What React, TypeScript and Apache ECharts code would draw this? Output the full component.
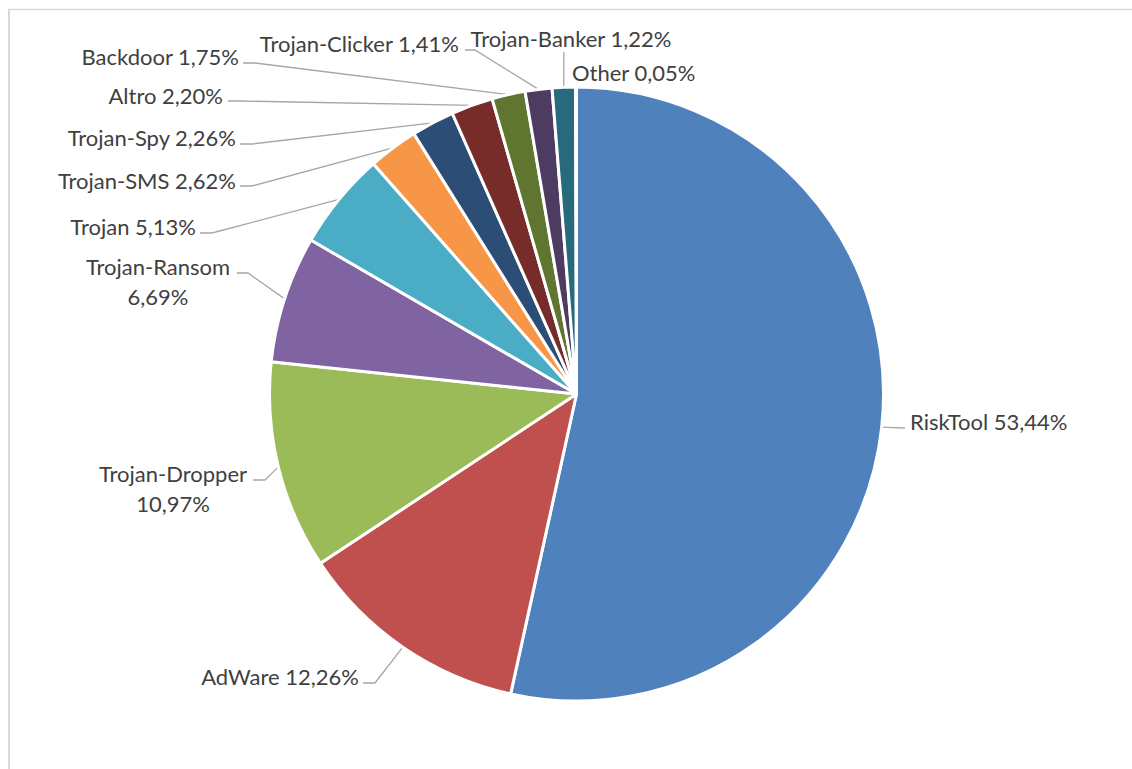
import React, { useEffect, useRef } from "react";
import * as echarts from "echarts";

const categories = [
  "RiskTool",
  "AdWare",
  "Trojan-Dropper",
  "Trojan-Ransom",
  "Trojan",
  "Trojan-SMS",
  "Trojan-Spy",
  "Altro",
  "Backdoor",
  "Trojan-Clicker",
  "Trojan-Banker",
  "Other",
];
const shares = [53.44, 12.26, 10.97, 6.69, 5.13, 2.62, 2.26, 2.2, 1.75, 1.41, 1.22, 0.05];
const colors = [
  "#4F81BD",
  "#C0504D",
  "#9BBB59",
  "#8064A2",
  "#4BACC6",
  "#F79646",
  "#2C4D75",
  "#772C2A",
  "#5F7530",
  "#4D3B62",
  "#276A7C",
  "#B65708",
];
// labels broken onto two lines
const twoLine = [false, false, true, true, false, false, false, false, false, false, false, false];

// label layout: [x, y, align, lineEndX, lineEndY, elbowX, elbowY] (layout only)
type LL = [number, number, string, number | null, number | null, number | null, number | null];
const labelLayouts: LL[] = [
  [910, 421, "left", 905, 428, null, null],
  [359, 676, "right", 363, 683, 375, 683],
  [173, 488, "center", 253, 480, 265, 480],
  [158, 281, "center", 237, 273, 248, 273],
  [196, 226, "right", 200, 233, 212, 233],
  [236, 180, "right", 240, 186, 252, 186],
  [236, 137, "right", 240, 144, 252, 144],
  [223, 95, "right", 228, 101, 240, 101],
  [239, 56, "right", 243, 63, 255, 63],
  [459, 43, "right", 465, 50, 475, 50],
  [571, 38, "center", -1, 52, null, null],
  [572, 72, "left", null, null, null, null],
];

const fmt = (v: number) => v.toFixed(2).replace(".", ",") + "%";

export default function App() {
  const ref = useRef<HTMLDivElement>(null);
  useEffect(() => {
    if (!ref.current) return;
    const chart = echarts.init(ref.current, null, { renderer: "svg" });
    const data = categories.map((name, i) => ({
      name,
      value: shares[i],
      itemStyle: { color: colors[i] },
      labelLine: { show: labelLayouts[i][3] !== null },
      label: { align: labelLayouts[i][2] as any },
    }));
    chart.setOption({
      animation: false,
      backgroundColor: "#ffffff",
      graphic: [
        {
          type: "line",
          shape: { x1: 8, y1: 9.5, x2: 1132, y2: 9.5 },
          style: { stroke: "#d9d9d9", lineWidth: 1.5 },
        },
        {
          type: "line",
          shape: { x1: 9, y1: 9, x2: 9, y2: 769 },
          style: { stroke: "#d9d9d9", lineWidth: 2 },
        },
      ],
      series: [
        {
          type: "pie",
          center: [576.5, 394],
          radius: 307,
          startAngle: 90,
          clockwise: true,
          avoidLabelOverlap: false,
          minShowLabelAngle: 0,
          itemStyle: { borderColor: "#ffffff", borderWidth: 3 },
          label: {
            show: true,
            position: "outside",
            fontFamily: "Lato",
            fontSize: 22,
            lineHeight: 30,
            color: "#404040",
            formatter: (p: any) =>
              p.name + (twoLine[p.dataIndex] ? "\n" : " ") + fmt(p.value),
          },
          labelLine: {
            show: true,
            lineStyle: { color: "#a6a6a6", width: 1.3 },
          },
          labelLayout: (params: any) => {
            const l = labelLayouts[params.dataIndex];
            const pts = params.labelLinePoints;
            const edge = pts ? pts[0] : [0, 0];
            const res: any = {
              x: l[0],
              y: l[1],
              align: l[2],
              verticalAlign: "middle",
            };
            if (l[3] !== null) {
              const endX = l[3] === -1 ? edge[0] : l[3];
              const endY = l[4] as number;
              const linePts: number[][] = [edge];
              if (l[5] !== null) linePts.push([l[5] as number, l[6] as number]);
              else linePts.push([(edge[0] + endX) / 2, (edge[1] + endY) / 2]);
              linePts.push([endX, endY]);
              res.labelLinePoints = linePts;
            }
            return res;
          },
          data,
        },
      ],
    });
    return () => chart.dispose();
  }, []);
  return (
    <div
      ref={ref}
      style={{ position: "fixed", left: 0, top: 0, width: 1132, height: 769 }}
    />
  );
}
